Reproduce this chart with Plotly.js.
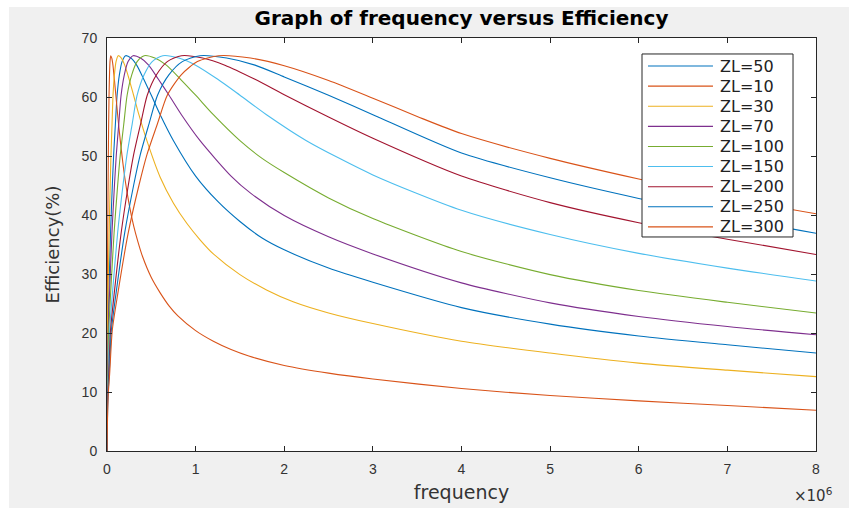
<!DOCTYPE html>
<html>
<head>
<meta charset="utf-8">
<script src="https://cdn.plot.ly/plotly-3.0.1.min.js"></script>
<style>
  html, body { margin: 0; padding: 0; background: #ffffff; width: 849px; height: 508px; overflow: hidden; }
  #chart { position: absolute; left: 9px; top: 7px; width: 840px; height: 501px; }
</style>
</head>
<body>
<div id="chart"></div>
<script>
// Frequency values are in units of 10^6 (axis shows x10^6)
const f_ZL50  = [0, 0.002, 0.005, 0.01, 0.02, 0.04, 0.06, 0.075, 0.095, 0.114, 0.14, 0.17, 0.21, 0.27, 0.335, 0.415, 0.5, 0.6, 0.75, 1.0, 1.25, 1.5, 1.75, 2, 2.5, 3, 4, 5, 6, 7, 8];
const e_ZL50  = [0, 9, 13.1, 20.5, 26.5, 37, 45, 50.2, 55.5, 60.3, 63.8, 66, 67, 66.6, 65.4, 63, 60.3, 57, 52.6, 46.6, 42.3, 38.9, 36.1, 34.1, 31, 28.6, 24.3, 21.5, 19.5, 18, 16.6];

const f_ZL10  = [0, 0.002, 0.008, 0.015, 0.023, 0.034, 0.042, 0.054, 0.067, 0.083, 0.1, 0.12, 0.15, 0.2, 0.25, 0.3, 0.35, 0.4, 0.5, 0.6, 0.7, 0.8, 1.0, 1.2, 1.4, 1.6, 2, 2.5, 3, 4, 5, 6, 7, 8];
const e_ZL10  = [0, 20.5, 37, 50.2, 60.3, 66, 67, 66.6, 65.4, 63, 60.3, 57, 52.6, 46.4, 41.8, 38.2, 35.4, 33, 29.4, 26.8, 24.6, 22.9, 20.4, 18.6, 17.2, 16.1, 14.5, 13.2, 12.2, 10.6, 9.4, 8.5, 7.7, 6.9];

const f_ZL30  = [0, 0.0012, 0.003, 0.006, 0.012, 0.024, 0.036, 0.045, 0.057, 0.068, 0.084, 0.102, 0.126, 0.162, 0.2, 0.25, 0.3, 0.36, 0.45, 0.6, 0.75, 0.9, 1.05, 1.2, 1.5, 1.8, 2.1, 2.5, 3, 4, 5, 6, 7, 8];
const e_ZL30  = [0, 9, 13.1, 20.5, 26.5, 37, 45, 50.2, 55.5, 60.3, 63.8, 66, 67, 66.6, 65.4, 63, 60.3, 57, 52.6, 46.4, 42, 38.6, 35.8, 33.4, 29.9, 27.3, 25.3, 23.4, 21.6, 18.6, 16.6, 14.9, 13.7, 12.6];

const f_ZL70  = [0, 0.0028, 0.007, 0.014, 0.028, 0.056, 0.084, 0.105, 0.133, 0.159, 0.196, 0.238, 0.294, 0.378, 0.47, 0.58, 0.7, 0.84, 1.05, 1.4, 1.62, 2, 2.5, 3, 4, 5, 6, 7, 8];
const e_ZL70  = [0, 9, 13.1, 20.5, 26.5, 37, 45, 50.2, 55.5, 60.3, 63.8, 66, 67, 66.6, 65.4, 63, 60.3, 57, 52.6, 46.6, 43.7, 39.9, 36.3, 33.4, 28.5, 25.1, 22.8, 21.1, 19.7];

const f_ZL100 = [0, 0.004, 0.01, 0.02, 0.04, 0.08, 0.12, 0.15, 0.19, 0.227, 0.28, 0.34, 0.42, 0.54, 0.67, 0.83, 1.0, 1.2, 1.5, 1.75, 2, 2.5, 3, 4, 5, 6, 7, 8];
const e_ZL100 = [0, 9, 13.1, 20.5, 26.5, 37, 45, 50.2, 55.5, 60.3, 63.8, 66, 67, 66.6, 65.4, 63, 60.3, 57, 52.6, 49.6, 47.2, 42.9, 39.4, 33.8, 29.9, 27.2, 25.2, 23.4];

const f_ZL150 = [0, 0.006, 0.015, 0.03, 0.06, 0.12, 0.18, 0.225, 0.285, 0.34, 0.42, 0.51, 0.63, 0.81, 1.0, 1.25, 1.5, 1.8, 2.25, 3, 4, 5, 6, 7, 8];
const e_ZL150 = [0, 9, 13.1, 20.5, 26.5, 37, 45, 50.2, 55.5, 60.3, 63.8, 66, 67, 66.6, 65.4, 63, 60.3, 57, 52.6, 46.8, 40.8, 36.7, 33.5, 31, 28.8];

const f_ZL200 = [0, 0.008, 0.02, 0.04, 0.08, 0.16, 0.24, 0.3, 0.38, 0.454, 0.56, 0.68, 0.84, 1.08, 1.33, 1.67, 2, 2.5, 3, 4, 5, 6, 7, 8];
const e_ZL200 = [0, 9, 13.1, 20.5, 26.5, 37, 45, 50.2, 55.5, 60.3, 63.8, 66, 67, 66.6, 65.4, 63, 60.4, 56.6, 53, 46.6, 42.1, 38.7, 35.9, 33.3];

const f_ZL250 = [0, 0.01, 0.025, 0.05, 0.1, 0.2, 0.3, 0.375, 0.475, 0.57, 0.7, 0.85, 1.05, 1.35, 1.67, 2, 2.5, 3, 4, 5, 6, 7, 8];
const e_ZL250 = [0, 9, 13.1, 20.5, 26.5, 37, 45, 50.2, 55.5, 60.3, 63.8, 66, 67, 66.6, 65.4, 63.4, 60.3, 57, 50.5, 46.3, 42.8, 39.7, 36.9];

const f_ZL300 = [0, 0.012, 0.03, 0.06, 0.12, 0.24, 0.36, 0.45, 0.57, 0.68, 0.84, 1.02, 1.26, 1.62, 2, 2.5, 3, 3.5, 4, 5, 6, 7, 8];
const e_ZL300 = [0, 9, 13.1, 20.5, 26.5, 37, 45, 50.2, 55.5, 60.3, 63.8, 66, 67, 66.6, 65.3, 62.8, 59.8, 56.7, 53.8, 49.6, 46.1, 42.9, 40.2];

const seriesNames  = ['ZL=50', 'ZL=10', 'ZL=30', 'ZL=70', 'ZL=100', 'ZL=150', 'ZL=200', 'ZL=250', 'ZL=300'];
const seriesX      = [f_ZL50, f_ZL10, f_ZL30, f_ZL70, f_ZL100, f_ZL150, f_ZL200, f_ZL250, f_ZL300];
const seriesY      = [e_ZL50, e_ZL10, e_ZL30, e_ZL70, e_ZL100, e_ZL150, e_ZL200, e_ZL250, e_ZL300];
const seriesColors = ['#0072BD', '#D95319', '#EDB120', '#7E2F8E', '#77AC30', '#4DBEEE', '#A2142F', '#0072BD', '#D95319'];

const xTickVals = [0, 1, 2, 3, 4, 5, 6, 7, 8];
const yTickVals = [0, 10, 20, 30, 40, 50, 60, 70];

const FONT = 'Liberation Sans, Arial, Helvetica, sans-serif';
const WIDE = 'DejaVu Sans, Verdana, sans-serif';
const AXCOL = '#262626';

const traces = seriesNames.map((name, i) => ({
  type: 'scatter',
  mode: 'lines',
  name: name,
  x: seriesX[i],
  y: seriesY[i],
  line: { color: seriesColors[i], width: 1.1, shape: 'spline', smoothing: 0.7 },
  showlegend: false
}));

// Legend box (MATLAB style), built from the series names/colours
const legBox = { x0: 0.7546, x1: 0.9676, y0: 0.5182, y1: 0.9613 };
const legLine = { x0: 0.7630, x1: 0.8547, textX: 0.8618 };
const legRowTop = 0.9322, legRowStep = 0.0487;

const shapes = [{
  type: 'rect', xref: 'paper', yref: 'paper', layer: 'above',
  x0: legBox.x0, x1: legBox.x1, y0: legBox.y0, y1: legBox.y1,
  fillcolor: '#ffffff', line: { color: AXCOL, width: 1 }
}];
const annotations = [];
seriesNames.forEach((name, i) => {
  const yy = legRowTop - i * legRowStep;
  shapes.push({
    type: 'line', xref: 'paper', yref: 'paper', layer: 'above',
    x0: legLine.x0, x1: legLine.x1, y0: yy, y1: yy,
    line: { color: seriesColors[i], width: 1.1 }
  });
  annotations.push({
    text: name, xref: 'paper', yref: 'paper',
    x: legLine.textX, y: yy, xanchor: 'left', yanchor: 'middle',
    showarrow: false,
    font: { family: WIDE, size: 16, color: '#222222' }
  });
});
annotations.push({
  text: '×10<sup>6</sup>',
  xref: 'paper', yref: 'paper',
  x: 1.027, y: -0.107, xanchor: 'right', yanchor: 'middle',
  showarrow: false,
  font: { family: WIDE, size: 15, color: '#333333' }
});

const layout = {
  width: 840,
  height: 501,
  paper_bgcolor: '#f0f0f0',
  plot_bgcolor: '#ffffff',
  margin: { l: 98, r: 33, t: 31, b: 57, pad: 0 },
  showlegend: false,
  title: {
    text: '<b>Graph of frequency versus Efficiency</b>',
    font: { family: WIDE, size: 20, color: '#000000' },
    x: 0.5, xref: 'paper', xanchor: 'center',
    y: 1, yref: 'paper', yanchor: 'bottom',
    pad: { b: 13 }
  },
  xaxis: {
    range: [0, 8],
    tickvals: xTickVals,
    ticktext: xTickVals.map(String),
    ticks: 'inside', ticklen: 5, tickwidth: 1, tickcolor: AXCOL,
    showline: true, linecolor: AXCOL, linewidth: 1, mirror: 'ticks',
    showgrid: false, zeroline: false,
    tickfont: { family: FONT, size: 14, color: '#333333' },
    ticklabelstandoff: 5,
    title: { text: 'frequency', font: { family: WIDE, size: 19, color: '#333333' }, standoff: 9 }
  },
  yaxis: {
    range: [0, 70],
    tickvals: yTickVals,
    ticktext: yTickVals.map(String),
    ticks: 'inside', ticklen: 5, tickwidth: 1, tickcolor: AXCOL,
    showline: true, linecolor: AXCOL, linewidth: 1, mirror: 'ticks',
    showgrid: false, zeroline: false,
    tickfont: { family: FONT, size: 14, color: '#333333' },
    ticklabelstandoff: 6,
    title: { text: 'Efficiency(%)', font: { family: WIDE, size: 18, color: '#333333' }, standoff: 17 }
  },
  shapes: shapes,
  annotations: annotations
};

Plotly.newPlot('chart', traces, layout, { displayModeBar: false, staticPlot: true });
</script>
</body>
</html>
